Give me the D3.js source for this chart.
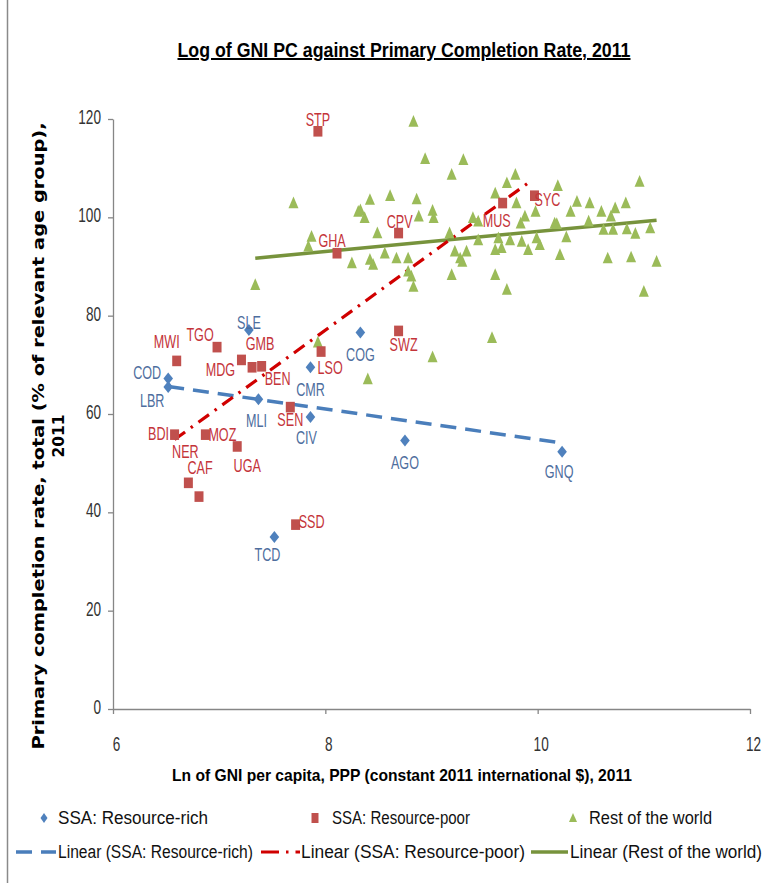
<!DOCTYPE html>
<html><head><meta charset="utf-8">
<script src="https://cdn.jsdelivr.net/npm/d3@7"></script>
<style>body{margin:0;background:#fff}svg{display:block}</style>
</head><body><svg id="c" width="772" height="883"></svg>
<script>
// ---------------- DATA ----------------
const xTicks = [6, 8, 10, 12];
const yTicks = [0, 20, 40, 60, 80, 100, 120];

const richCodes = ["COD","LBR","SLE","MLI","CMR","CIV","TCD","COG","AGO","GNQ"];
const richX = [6.52, 6.52, 7.28, 7.37, 7.86, 7.86, 7.52, 8.33, 8.75, 10.23];
const richY = [67.2, 65.5, 77.1, 63.0, 69.5, 59.4, 35.0, 76.6, 54.6, 52.3];

const poorCodes = ["MWI","TGO","MDG","GMB","BEN","BDI","MOZ","NER","CAF","UGA","SEN","LSO","SSD","STP","GHA","CPV","SWZ","MUS","SYC"];
const poorX = [6.60, 6.98, 7.21, 7.31, 7.40, 6.58, 6.87, 6.71, 6.81, 7.17, 7.67, 7.96, 7.72, 7.93, 8.11, 8.69, 8.69, 9.67, 9.97];
const poorY = [70.8, 73.6, 71.0, 69.5, 69.7, 55.8, 55.8, 46.0, 43.2, 53.4, 61.4, 72.7, 37.5, 117.5, 92.7, 96.8, 76.9, 102.9, 104.4];

const restX = [7.34, 7.70, 7.87, 7.84, 7.93, 8.25, 8.31, 8.40, 8.42, 8.61, 8.33, 8.37, 8.49, 8.42, 8.45, 8.56, 8.67, 8.78, 8.78, 8.81,
  8.83, 8.83, 8.86, 8.88, 8.94, 9.01, 9.02, 9.01, 9.19, 9.30, 9.19, 9.17, 9.22, 9.29, 9.33, 9.27, 9.39, 9.44, 9.44, 9.57,
  9.60, 9.60, 9.60, 9.63, 9.66, 9.71, 9.79, 9.80, 9.71, 9.74, 9.84, 9.88, 9.85, 9.91, 9.98, 9.99, 10.02, 10.16, 10.19, 10.21,
  10.27, 10.31, 10.37, 10.48, 10.49, 10.60, 10.62, 10.66, 10.69, 10.71, 10.73, 10.83, 10.84, 10.88, 10.92, 10.96, 11.00, 11.06, 11.12, 10.18];
const restY = [86.3, 102.9, 96.1, 94.1, 74.6, 90.7, 101.2, 67.1, 103.6, 104.4, 101.5, 99.9, 96.8, 91.4, 90.4, 92.7, 91.7, 91.7, 89.0, 88.0,
  85.9, 119.5, 103.7, 100.2, 111.9, 101.4, 99.9, 71.6, 108.7, 111.7, 88.3, 96.8, 93.1, 91.0, 93.1, 91.7, 99.9, 95.4, 99.2, 75.5,
  104.9, 93.4, 88.3, 95.8, 93.8, 107.0, 108.7, 102.9, 85.3, 95.4, 98.8, 100.2, 95.1, 93.4, 101.2, 95.8, 94.4, 98.8, 106.4, 92.4,
  96.0, 101.2, 103.2, 99.2, 102.9, 101.2, 97.5, 91.7, 100.2, 97.5, 101.9, 102.9, 97.6, 91.9, 96.7, 107.3, 84.9, 97.8, 91.0, 98.7];

const trendRichX = [6.52, 10.23], trendRichY = [65.6, 54.1];
const trendPoorX = [6.58, 9.93],  trendPoorY = [54.8, 107.3];
const trendRestX = [7.34, 11.12], trendRestY = [91.7, 99.4];

const seriesNames = ["SSA: Resource-rich", "SSA: Resource-poor", "Rest of the world"];
const trendNames = ["Linear (SSA: Resource-rich)", "Linear (SSA: Resource-poor)", "Linear (Rest of the world)"];

// ---------------- LAYOUT ----------------
const labelOffset = {
  COD:[-21,-6], LBR:[-16,14], SLE:[0,-7], MLI:[-2,21], CMR:[0,22], CIV:[-4,21], TCD:[-7,18], COG:[0,22], AGO:[0,22], GNQ:[-3,20],
  MWI:[-10,-19], TGO:[-17,-12], MDG:[-21,10], GMB:[8,-24], BEN:[16,12], BDI:[-16,-1], MOZ:[17,0], NER:[-3,-31], CAF:[1,-29],
  UGA:[10,19], SEN:[0,13], LSO:[9,16], SSD:[16,-3], STP:[0,-12], GHA:[-5,-13], CPV:[1,-11], SWZ:[5,14], MUS:[-6,18], SYC:[13,4]
};
const C = {
  blue: "#4F81BD", blueLine: "#4A7EBB", blueText: "#4E6E9E",
  red: "#C0504D", redLine: "#D00000", redText: "#C4343A",
  green: "#9BBB59", greenLine: "#77933C", axis: "#868686", tick: "#333333"
};
const FONT = "'Liberation Sans', Arial, sans-serif";

const svg = d3.select("#c");
const x = d3.scaleLinear().domain([6, 12]).range([113, 750]);
const y = d3.scaleLinear().domain([0, 120]).range([709, 119]);

// frame (left edge visible)
svg.append("line").attr("x1", 7.5).attr("x2", 7.5).attr("y1", 0).attr("y2", 883)
  .attr("stroke", "#8a8a8a").attr("stroke-width", 1.5);

// condensed text helper
function ctext(parent, px, py, str, o) {
  return parent.append("text")
    .attr("transform", `translate(${px},${py}) scale(${o.sx || 1},1)`)
    .attr("text-anchor", o.anchor || "middle")
    .attr("dominant-baseline", "central")
    .style("font-family", o.family || FONT)
    .style("font-size", o.size + "px")
    .style("font-weight", o.weight || "normal")
    .attr("fill", o.fill || "#000")
    .text(str);
}

// ---------------- AXES ----------------
const gy = svg.append("g").attr("transform", "translate(113,0)")
  .call(d3.axisLeft(y).tickValues(yTicks).tickSize(5).tickSizeOuter(0).tickFormat(d3.format("d")));
const gx = svg.append("g").attr("transform", "translate(0,709)")
  .call(d3.axisBottom(x).tickValues(xTicks).tickSize(5).tickSizeOuter(0).tickFormat(d3.format("d")));
[gy, gx].forEach(g => {
  g.select(".domain").attr("stroke", C.axis).attr("stroke-width", 1.3);
  g.selectAll(".tick line").attr("stroke", C.axis).attr("stroke-width", 1.3);
  g.selectAll(".tick text").remove();
});
gy.selectAll(".tick").each(function(d) {
  ctext(d3.select(this), -12, -2, d3.format("d")(d), {anchor: "end", size: 20, sx: 0.68, fill: C.tick});
});
gx.selectAll(".tick").each(function(d) {
  ctext(d3.select(this), 3, 36, d3.format("d")(d), {anchor: "middle", size: 20, sx: 0.68, fill: C.tick});
});

// ---------------- TREND LINES ----------------
const line = d3.line().x(d => x(d[0])).y(d => y(d[1]));
svg.append("path").attr("d", line(d3.zip(trendRestX, trendRestY)))
  .attr("fill", "none").attr("stroke", C.greenLine).attr("stroke-width", 3.5);
svg.append("path").attr("d", line(d3.zip(trendRichX, trendRichY)))
  .attr("fill", "none").attr("stroke", C.blueLine).attr("stroke-width", 3.5).attr("stroke-dasharray", "16,9");
svg.append("path").attr("d", line(d3.zip(trendPoorX, trendPoorY)))
  .attr("fill", "none").attr("stroke", C.redLine).attr("stroke-width", 3.2).attr("stroke-dasharray", "13,7,2.5,7");

// ---------------- MARKERS ----------------
const diamond = (cx, cy, w, h) => `M${cx},${cy-h}L${cx+w},${cy}L${cx},${cy+h}L${cx-w},${cy}Z`;
const square = (cx, cy, w, h) => `M${cx-w},${cy-h}h${2*w}v${2*h}h${-2*w}Z`;
const tri = (cx, cy, w, h) => `M${cx},${cy-h}L${cx+w},${cy+h*0.8}L${cx-w},${cy+h*0.8}Z`;

svg.append("g").selectAll("path").data(d3.zip(restX, restY)).join("path")
  .attr("d", d => tri(x(d[0]), y(d[1]), 5, 6.5)).attr("fill", C.green);
svg.append("g").selectAll("path").data(d3.zip(poorX, poorY)).join("path")
  .attr("d", d => square(x(d[0]), y(d[1]), 4.5, 5.3)).attr("fill", C.red);
svg.append("g").selectAll("path").data(d3.zip(richX, richY)).join("path")
  .attr("d", d => diamond(x(d[0]), y(d[1]), 4.8, 6)).attr("fill", C.blue);

// ---------------- POINT LABELS ----------------
const lab = svg.append("g");
richCodes.forEach((c, i) => {
  const o = labelOffset[c];
  ctext(lab, x(richX[i]) + o[0], y(richY[i]) + o[1], c, {size: 17.5, sx: 0.72, fill: C.blueText});
});
poorCodes.forEach((c, i) => {
  const o = labelOffset[c];
  ctext(lab, x(poorX[i]) + o[0], y(poorY[i]) + o[1], c, {size: 17.5, sx: 0.72, fill: C.redText});
});

// ---------------- TITLES ----------------
svg.append("text").attr("x", 404).attr("y", 57).attr("text-anchor", "middle")
  .attr("font-family", FONT).attr("font-weight", "bold").attr("font-size", 20)
  .attr("text-decoration", "underline").attr("textLength", 453).attr("lengthAdjust", "spacingAndGlyphs")
  .text("Log of GNI PC against Primary Completion Rate, 2011");

svg.append("text").attr("x", 402).attr("y", 781).attr("text-anchor", "middle")
  .attr("font-family", FONT).attr("font-weight", "bold").attr("font-size", 17)
  .attr("textLength", 460).attr("lengthAdjust", "spacingAndGlyphs")
  .text("Ln of GNI per capita, PPP (constant 2011 international $), 2011");

const yt = svg.append("g").attr("transform", "translate(0,436) rotate(-90)");
yt.append("text").attr("x", 0).attr("y", 44).attr("text-anchor", "middle")
  .attr("font-family", "'DejaVu Sans', Verdana, sans-serif").attr("font-weight", "bold").attr("font-size", 15.5)
  .attr("textLength", 627).attr("lengthAdjust", "spacingAndGlyphs")
  .text("Primary completion rate, total (% of relevant age group),");
yt.append("text").attr("x", 0).attr("y", 64).attr("text-anchor", "middle")
  .attr("font-family", "'DejaVu Sans', Verdana, sans-serif").attr("font-weight", "bold").attr("font-size", 15.5)
  .text("2011");

// ---------------- LEGEND ----------------
const leg = svg.append("g");
const legText = (tx, ty, str, len) => leg.append("text").attr("x", tx).attr("y", ty)
  .attr("dominant-baseline", "central").attr("font-family", FONT).attr("font-size", 18).attr("fill", "#111")
  .attr("textLength", len).attr("lengthAdjust", "spacingAndGlyphs").text(str);
const r1 = 818, r2 = 852;
leg.append("path").attr("d", diamond(44, r1, 3.5, 5)).attr("fill", C.blue);
legText(58, r1, seriesNames[0], 150);
leg.append("path").attr("d", square(315, r1, 3.5, 5)).attr("fill", C.red);
legText(332, r1, seriesNames[1], 138);
leg.append("path").attr("d", tri(573, r1, 4, 5)).attr("fill", C.green);
legText(589, r1, seriesNames[2], 123);

leg.append("line").attr("x1", 16).attr("x2", 56).attr("y1", r2).attr("y2", r2)
  .attr("stroke", C.blueLine).attr("stroke-width", 3.5).attr("stroke-dasharray", "16,9");
legText(58, r2, trendNames[0], 195);
leg.append("line").attr("x1", 261).attr("x2", 300).attr("y1", r2).attr("y2", r2)
  .attr("stroke", C.redLine).attr("stroke-width", 3.2).attr("stroke-dasharray", "18,7,2.5,7");
legText(301, r2, trendNames[1], 224);
leg.append("line").attr("x1", 531).attr("x2", 568).attr("y1", r2).attr("y2", r2)
  .attr("stroke", C.greenLine).attr("stroke-width", 3.5);
legText(570, r2, trendNames[2], 192);
</script>
</body></html>
